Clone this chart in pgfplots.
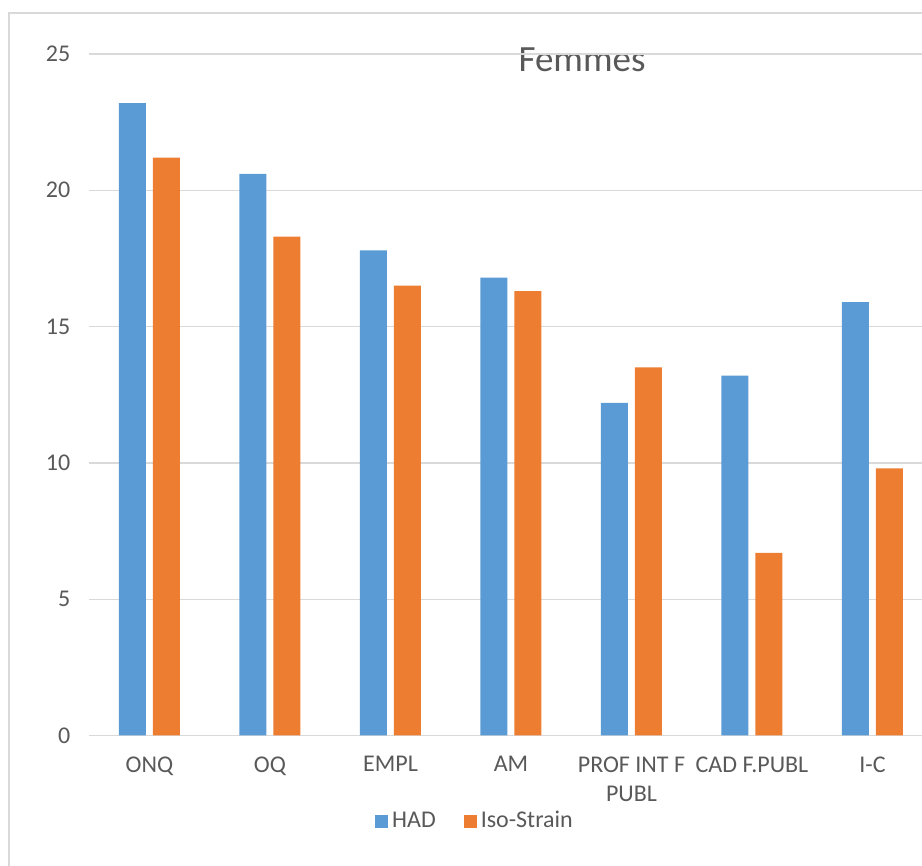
\documentclass[border=0pt]{standalone}
\usepackage{fontspec}
\setmainfont{Carlito}
\usepackage{pgfplots}
\pgfplotsset{compat=1.18}
\definecolor{hadblue}{HTML}{5B9BD5}
\definecolor{isoorange}{HTML}{ED7D31}
\definecolor{gridgrey}{HTML}{D9D9D9}
\definecolor{txtgrey}{HTML}{595959}
\begin{document}
\begin{tikzpicture}
\useasboundingbox (0pt,0pt) rectangle (461pt,433pt);
\clip (0pt,0pt) rectangle (461pt,433pt);
\draw[gridgrey, line width=1pt] (4.5pt,-20pt) -- (4.5pt,426.5pt) -- (480pt,426.5pt);
\node[txtgrey, font=\fontsize{18.5}{22}\selectfont] at (291pt,403pt) {Femmes};
\begin{axis}[
  at={(44.625pt,65.25pt)}, anchor=south west,
  width=421.75pt, height=340.75pt, scale only axis,
  xmin=-0.5, xmax=6.5, ymin=0, ymax=25,
  xtick={0,...,6},
  xticklabels={ONQ,OQ,EMPL,AM,{PROF INT F\\PUBL},CAD F.PUBL,I-C},
  ytick={0,5,...,25},
  axis line style={draw=none},
  major tick length=0pt,
  ymajorgrids,
  grid style={draw=gridgrey, line width=0.65pt},
  tick label style={txtgrey, font=\fontsize{12}{14.5}\selectfont},
  /pgf/number format/assume math mode=true,
  xticklabel style={align=center, anchor=north, yshift=-7pt},
  yticklabel style={anchor=east, xshift=-6pt},
  legend style={at={(0.4585,-0.1255)}, anchor=center, draw=none, fill=none,
    legend columns=2, font=\fontsize{12}{14.5}\selectfont, text=txtgrey,
    /tikz/every even column/.append style={column sep=12pt}},
  legend image code/.code={\fill[#1] (0pt,-3.25pt) rectangle (6.5pt,3.25pt);},
]
\addplot[ybar, bar width=13.5pt, bar shift=-8.5pt, fill=hadblue, draw=none]
  coordinates {(0,23.2) (1,20.6) (2,17.8) (3,16.8) (4,12.2) (5,13.2) (6,15.9)};
\addlegendentry{HAD}
\addplot[ybar, bar width=13.5pt, bar shift=8.5pt, fill=isoorange, draw=none]
  coordinates {(0,21.2) (1,18.3) (2,16.5) (3,16.3) (4,13.5) (5,6.7) (6,9.8)};
\addlegendentry{Iso-Strain}
\end{axis}
\end{tikzpicture}
\end{document}
